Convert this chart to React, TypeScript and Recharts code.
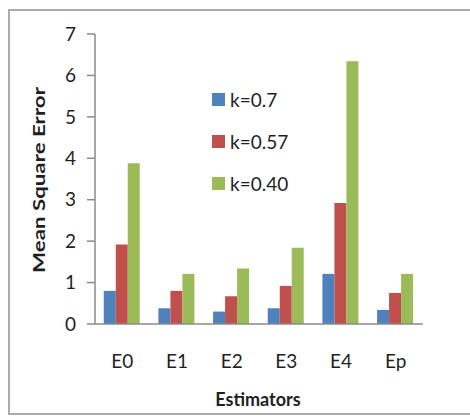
import React from 'react';
import { BarChart, Bar, XAxis, YAxis, Legend } from 'recharts';

// Estimator categories along the x axis
const estimators = ['E0', 'E1', 'E2', 'E3', 'E4', 'Ep'];
// Mean square error for each value of k
const mseK070 = [0.8, 0.38, 0.3, 0.38, 1.21, 0.34];
const mseK057 = [1.92, 0.8, 0.67, 0.92, 2.92, 0.75];
const mseK040 = [3.88, 1.21, 1.34, 1.84, 6.34, 1.21];
const seriesNames = ['k=0.7', 'k=0.57', 'k=0.40'];
const seriesColors = ['#4F81BD', '#C0504D', '#9BBB59'];
const yTicks = [0, 1, 2, 3, 4, 5, 6, 7];
// Boundaries between categories, used for the x-axis tick marks
const categoryEdges = [0, 1, 2, 3, 4, 5, 6];

const data = estimators.map((name, i) => ({
  name,
  k070: mseK070[i],
  k057: mseK057[i],
  k040: mseK040[i],
}));

const FONT = 'Lato, "Open Sans", sans-serif';
const TEXT = '#1f1f1f';
const AXIS = '#8a8a8a';

const YLabel = (props: any) => {
  const { x, y, height } = props.viewBox;
  const cx = x + 9.5;
  const cy = y + height / 2 + 1;
  return (
    <text
      x={cx}
      y={cy}
      transform={`rotate(-90 ${cx} ${cy})`}
      textAnchor="middle"
      fontFamily={FONT}
      fontWeight="bold"
      fontSize={17}
      fill={TEXT}
      textLength={186}
      lengthAdjust="spacingAndGlyphs"
    >
      Mean Square Error
    </text>
  );
};

const XLabel = (props: any) => {
  const { x, y, width } = props.viewBox;
  return (
    <text
      x={x + width / 2 - 1}
      y={y + 74}
      textAnchor="middle"
      fontFamily={FONT}
      fontWeight="bold"
      fontSize={18}
      fill={TEXT}
    >
      Estimators
    </text>
  );
};

const LegendBox = (props: any) => {
  const items = [...(props.payload || [])].sort(
    (a: any, b: any) => seriesNames.indexOf(a.value) - seriesNames.indexOf(b.value)
  );
  return (
    <div style={{ fontFamily: FONT, fontSize: 19, color: TEXT, lineHeight: 1 }}>
      {items.map((p: any, i: number) => (
        <div key={i} style={{ display: 'flex', alignItems: 'center', height: 42 }}>
          <span
            style={{ width: 13, height: 13, background: p.color, marginRight: 5, display: 'inline-block' }}
          />
          <span>{p.value}</span>
        </div>
      ))}
    </div>
  );
};

export default function App() {
  return (
    <div style={{ position: 'absolute', left: 0, top: 0, width: 470, height: 416, background: '#fff', overflow: 'hidden' }}>
      <div
        style={{
          position: 'absolute',
          left: 8,
          top: 9,
          width: 480,
          height: 406,
          boxSizing: 'border-box',
          borderLeft: '2px solid #ababab',
          borderTop: '2px solid #ababab',
          borderBottom: '2px solid #ababab',
        }}
      />
      <div style={{ position: 'absolute', left: 0, top: 0 }}>
        <BarChart
          width={470}
          height={416}
          data={data}
          margin={{ top: 34, right: 47, bottom: 54, left: 35 }}
          barCategoryGap="16%"
          barGap={0}
        >
          <XAxis
            xAxisId="bCat"
            dataKey="name"
            height={30}
            axisLine={false}
            tickLine={false}
            tickSize={6}
            tickMargin={17}
            tick={{ fontFamily: FONT, fontSize: 19, fill: TEXT }}
            label={XLabel}
          />
          <XAxis
            xAxisId="aEdges"
            type="number"
            domain={[0, 6]}
            ticks={categoryEdges}
            tick={false}
            tickSize={8}
            height={8}
            axisLine={{ stroke: AXIS, strokeWidth: 1.5 }}
            tickLine={{ stroke: AXIS, strokeWidth: 1.5 }}
          />
          <YAxis
            domain={[0, 7]}
            ticks={yTicks}
            width={60}
            tickSize={8}
            tickMargin={11}
            axisLine={{ stroke: AXIS, strokeWidth: 1.5 }}
            tickLine={{ stroke: AXIS, strokeWidth: 1.5 }}
            tick={{ fontFamily: FONT, fontSize: 19, fill: TEXT }}
            label={YLabel}
          />
          <Legend
            layout="vertical"
            verticalAlign="middle"
            align="center"
            content={LegendBox}
            wrapperStyle={{ position: 'absolute', left: 212, top: 78, width: 'auto' }}
          />
          <Bar xAxisId="bCat" dataKey="k070" name={seriesNames[0]} fill={seriesColors[0]} isAnimationActive={false} />
          <Bar xAxisId="bCat" dataKey="k057" name={seriesNames[1]} fill={seriesColors[1]} isAnimationActive={false} />
          <Bar xAxisId="bCat" dataKey="k040" name={seriesNames[2]} fill={seriesColors[2]} isAnimationActive={false} />
        </BarChart>
      </div>
    </div>
  );
}
